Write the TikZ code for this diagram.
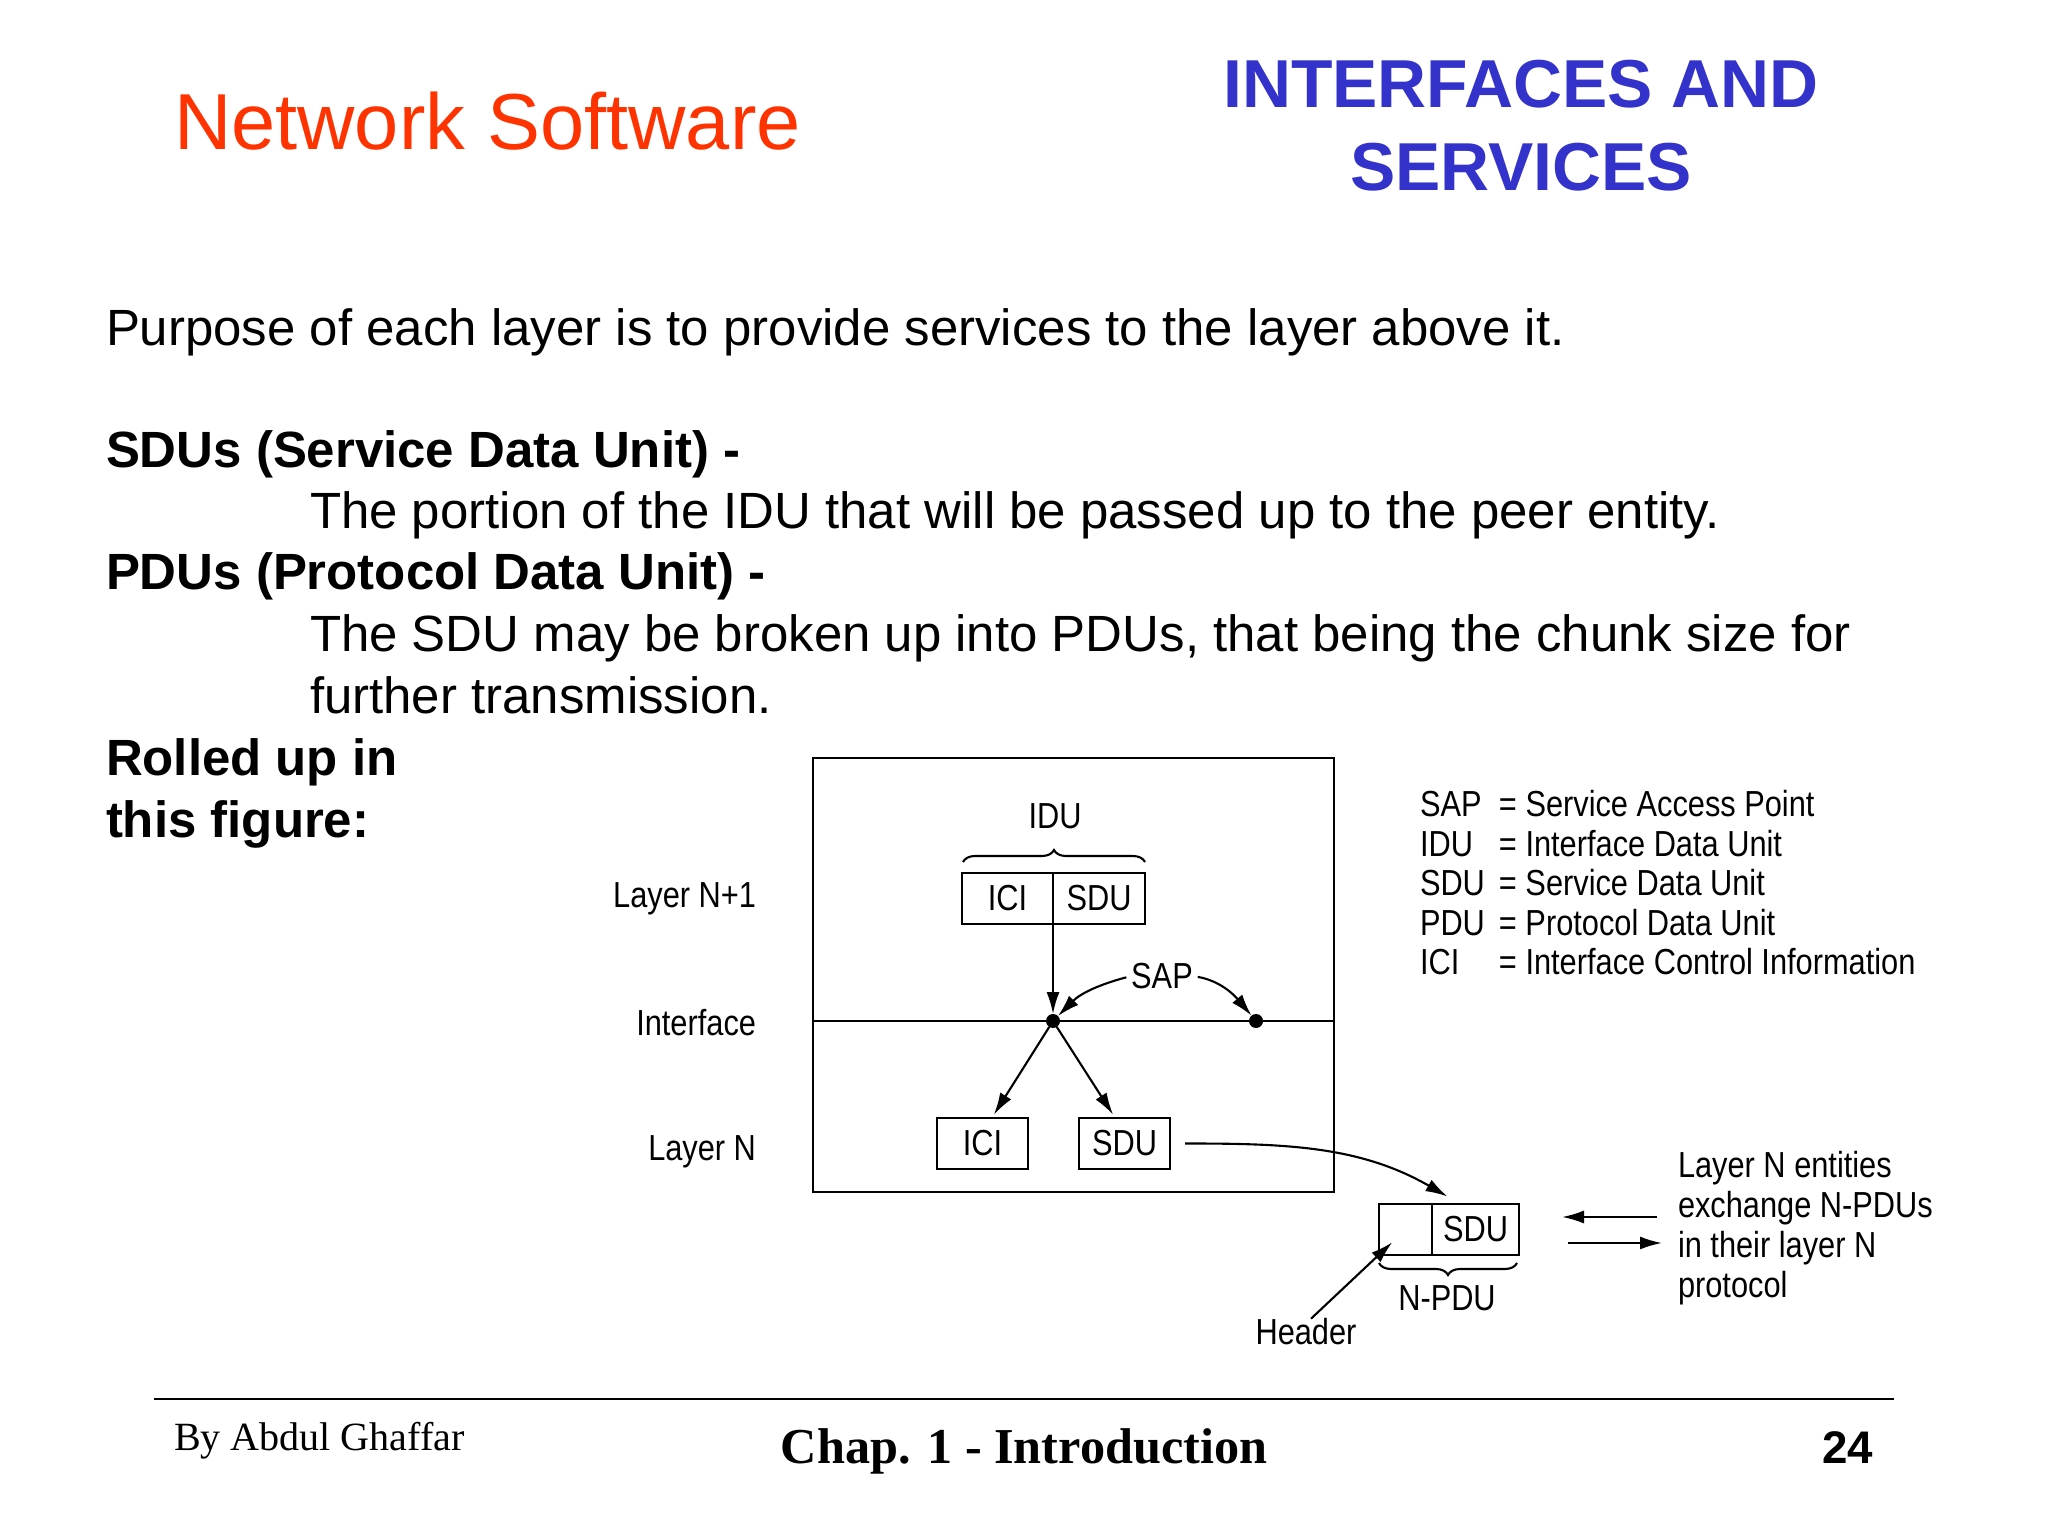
\documentclass[tikz,border=0pt]{standalone}
\usepackage{fontspec}
\usepackage{tikz}
\usetikzlibrary{arrows.meta,positioning,calc,decorations.pathreplacing}
\setmainfont{Liberation Sans}
\newfontfamily\figfont[FakeStretch=0.85]{Liberation Sans}
\newfontfamily\footfont{Liberation Serif}
\definecolor{TitleRed}{HTML}{FF3300}
\definecolor{TitleBlue}{HTML}{3333CC}
\newcommand\abbr[2]{\makebox[0.79cm][l]{#1}= #2}

\begin{document}
\begin{tikzpicture}[every node/.style={inner sep=0pt,outer sep=0pt},
  body/.style={anchor=base west,font=\fontsize{14.5}{17.4}\selectfont},
  bodybf/.style={anchor=base west,font=\bfseries\fontsize{14.5}{17.4}\selectfont},
  fig/.style={font=\figfont\fontsize{10.3}{11.3}\selectfont},
  unit/.style={fig,draw,line width=0.6pt,minimum height=0.51cm},
  dot/.style={circle,fill,inner sep=0pt,minimum size=0.14cm},
  arr/.style={-{Latex[length=2.2mm,width=1.3mm]},line width=0.6pt},
  brace/.style={decorate,decoration={brace,amplitude=0.12cm},line width=0.6pt}]
  \fill[white] (0,0) rectangle (20.48,-15.36);
  \useasboundingbox (0,0) rectangle (20.48,-15.36);

  % titles
  \node[anchor=base west,text=TitleRed,font=\fontsize{22.6}{27}\selectfont] (title) at (1.74,-1.50) {Network Software};
  \node[anchor=north,align=center,text=TitleBlue,font=\bfseries\fontsize{19.3}{23.6}\selectfont] (topic) at (15.21,-0.60) {INTERFACES AND\\SERVICES};

  % body text
  \node[body] (purpose) at (1.06,-3.46) {Purpose of each layer is to provide services to the layer above it.};
  \node[bodybf] (sdus) at (1.06,-4.675) {SDUs (Service Data Unit) -};
  \node[body] (sdudef) at (3.10,-5.29) {The portion of the IDU that will be passed up to the peer entity.};
  \node[bodybf] (pdus) at (1.06,-5.90) {PDUs (Protocol Data Unit) -};
  \node[body,align=left] (pdudef) at (3.10,-7.13) {The SDU may be broken up into PDUs, that being the chunk size for\\further transmission.};
  \node[bodybf,align=left] (rolled) at (1.06,-8.37) {Rolled up in\\this figure:};

  % layer box
  \draw[line width=0.6pt] (8.13,-7.58) rectangle (13.34,-11.92);
  \draw[line width=0.6pt] (8.13,-10.21) -- (13.34,-10.21);
  \node[fig,anchor=east] (lup) at (7.56,-8.99) {Layer N+1};
  \node[fig,anchor=east] (lif) at (7.56,-10.23) {Interface};
  \node[fig,anchor=east] (ln) at (7.56,-11.52) {Layer N};

  \node[unit,minimum width=0.91cm] (ici1) at (10.075,-8.985) {ICI};
  \node[unit,minimum width=0.92cm] (sdu1) at (10.99,-8.985) {SDU};
  \draw[brace] (9.63,-8.62) -- (11.45,-8.62);
  \node[fig] (idu) at (10.55,-8.16) {IDU};

  \node[dot] (dot1) at (10.53,-10.21) {};
  \node[dot] (dot2) at (12.56,-10.21) {};
  \node[fig] (sap) at (11.62,-9.76) {SAP};
  \draw[arr] (ici1.south east) -- (dot1);
  \draw[arr,shorten <=0.05cm] (sap.west) to[out=195,in=45] (dot1);
  \draw[arr,shorten <=0.05cm] (sap.east) to[out=-10,in=130] (dot2);

  \node[unit,minimum width=0.91cm] (ici2) at (9.825,-11.435) {ICI};
  \node[unit,minimum width=0.91cm] (sdu2) at (11.245,-11.435) {SDU};
  \draw[arr,shorten >=0.04cm] (dot1) -- (ici2.70);
  \draw[arr,shorten >=0.04cm] (dot1) -- (sdu2.110);

  % N-PDU
  \node[unit,minimum width=0.53cm] (hdr) at (14.055,-12.295) {};
  \node[unit,minimum width=0.87cm] (sdu3) at (14.755,-12.295) {SDU};
  \draw[arr,shorten <=0.15cm,shorten >=0.15cm] (sdu2.east) to[out=0,in=150] ([xshift=-0.15cm]sdu3.north);
  \draw[brace] (15.17,-12.63) -- (13.79,-12.63);
  \node[fig] (npdu) at (14.47,-12.98) {N-PDU};
  \node[fig] (header) at (13.06,-13.32) {Header};
  \draw[arr] ([xshift=0.05cm]header.north) -- ($(hdr.south west)!0.25!(hdr.north east)$);

  \node[fig,anchor=base west,align=left] (note) at (16.78,-12.97) {Layer N entities\\exchange N-PDUs\\in their layer N\\protocol};
  \coordinate (inl) at (16.57,-12.17);
  \coordinate (inr) at (15.62,-12.17);
  \coordinate (outl) at (15.68,-12.43);
  \coordinate (outr) at (16.62,-12.43);
  \draw[arr] (inl) -- (inr);
  \draw[arr] (outl) -- (outr);

  % legend
  \node[fig,anchor=base west,align=left,font=\figfont\fontsize{10.3}{11.25}\selectfont] (legend) at (14.20,-9.75)
    {\abbr{SAP}{Service Access Point}\\\abbr{IDU}{Interface Data Unit}\\\abbr{SDU}{Service Data Unit}\\\abbr{PDU}{Protocol Data Unit}\\\abbr{ICI}{Interface Control Information}};

  % footer
  \draw[line width=0.85pt] (1.54,-13.99) -- (18.94,-13.99);
  \node[anchor=base west,font=\footfont\fontsize{11.4}{13}\selectfont] (author) at (1.74,-14.50) {By Abdul Ghaffar};
  \node[anchor=base,font=\footfont\bfseries\fontsize{14.3}{17}\selectfont] (chap) at (10.24,-14.63) {Chap. 1 - Introduction};
  \node[anchor=base east,font=\bfseries\fontsize{13}{15}\selectfont] (page) at (18.73,-14.63) {24};
\end{tikzpicture}
\end{document}
